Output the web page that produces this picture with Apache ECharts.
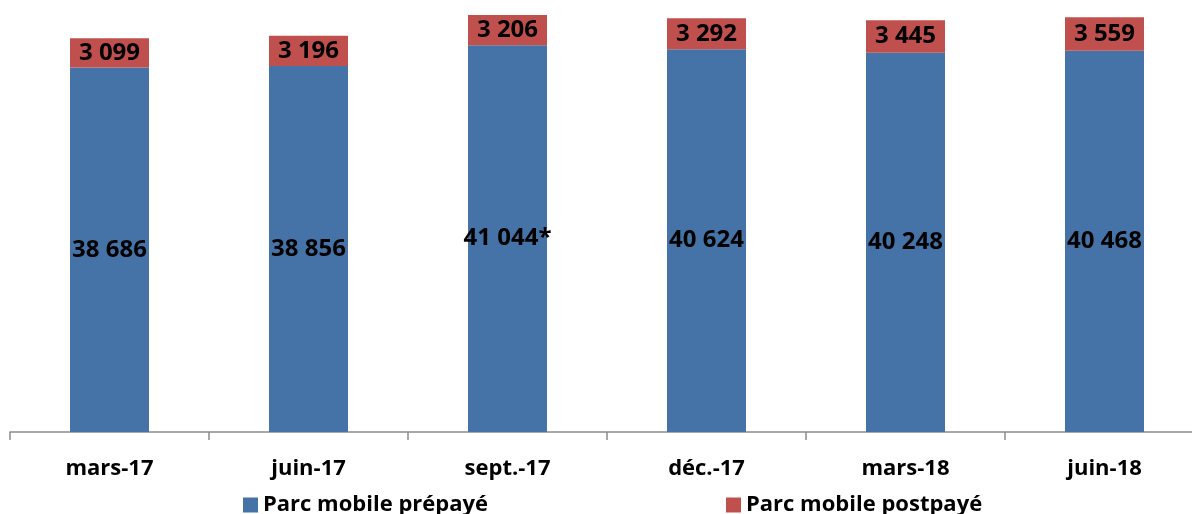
<!DOCTYPE html>
<html><head><meta charset="utf-8">
<script src="https://cdn.jsdelivr.net/npm/echarts@6/dist/echarts.min.js"></script>
<style>html,body{margin:0;padding:0;background:#fff;overflow:hidden}#c{width:1220px;height:514px}</style>
</head><body><div id="c"></div>
<script>
const categories = ['mars-17', 'juin-17', 'sept.-17', 'déc.-17', 'mars-18', 'juin-18'];
const prepaid = [38686, 38856, 41044, 40624, 40248, 40468];
const postpaid = [3099, 3196, 3206, 3292, 3445, 3559];
const prepaidNotes = ['', '', '*', '', '', ''];
const seriesNames = ['Parc mobile prépayé', 'Parc mobile postpayé'];

const FONT = 'Open Sans';
function fmt(v) { return String(v).replace(/\B(?=(\d{3})+(?!\d))/g, ' '); }

const chart = echarts.init(document.getElementById('c'));
chart.setOption({
  animation: false,
  textStyle: { fontFamily: FONT },
  grid: { left: 10, width: 1194, top: 8, height: 424, containLabel: false },
  legend: [
    { data: [seriesNames[0]], left: 238, top: 489, itemWidth: 15, itemHeight: 15, itemGap: 8,
      textStyle: { fontFamily: FONT, fontWeight: 'bold', fontSize: 22, color: '#000' }, icon: 'rect' },
    { data: [seriesNames[1]], left: 721, top: 489, itemWidth: 15, itemHeight: 15, itemGap: 8,
      textStyle: { fontFamily: FONT, fontWeight: 'bold', fontSize: 22, color: '#000' }, icon: 'rect' }
  ],
  xAxis: {
    type: 'category', data: categories,
    axisLine: { lineStyle: { color: '#8c8c8c', width: 1.5 } },
    axisTick: { show: true, length: 8, lineStyle: { color: '#8c8c8c', width: 1.5 } },
    axisLabel: { fontFamily: FONT, fontWeight: 'bold', fontSize: 22, color: '#000', margin: 26 }
  },
  yAxis: { type: 'value', min: 0, max: 45000, show: false, splitLine: { show: false } },
  series: [
    { name: seriesNames[0], type: 'bar', stack: 'a', data: prepaid, barWidth: 79,
      itemStyle: { color: '#4573A7' },
      label: { show: true, position: 'inside', fontFamily: FONT, fontWeight: 'bold', fontSize: 24, color: '#000',
        formatter: p => fmt(p.value) + prepaidNotes[p.dataIndex] } },
    { name: seriesNames[1], type: 'bar', stack: 'a', data: postpaid, barWidth: 79,
      itemStyle: { color: '#C0504D' },
      label: { show: true, position: 'inside', fontFamily: FONT, fontWeight: 'bold', fontSize: 24, color: '#000',
        formatter: p => fmt(p.value) } }
  ]
});
</script></body></html>
